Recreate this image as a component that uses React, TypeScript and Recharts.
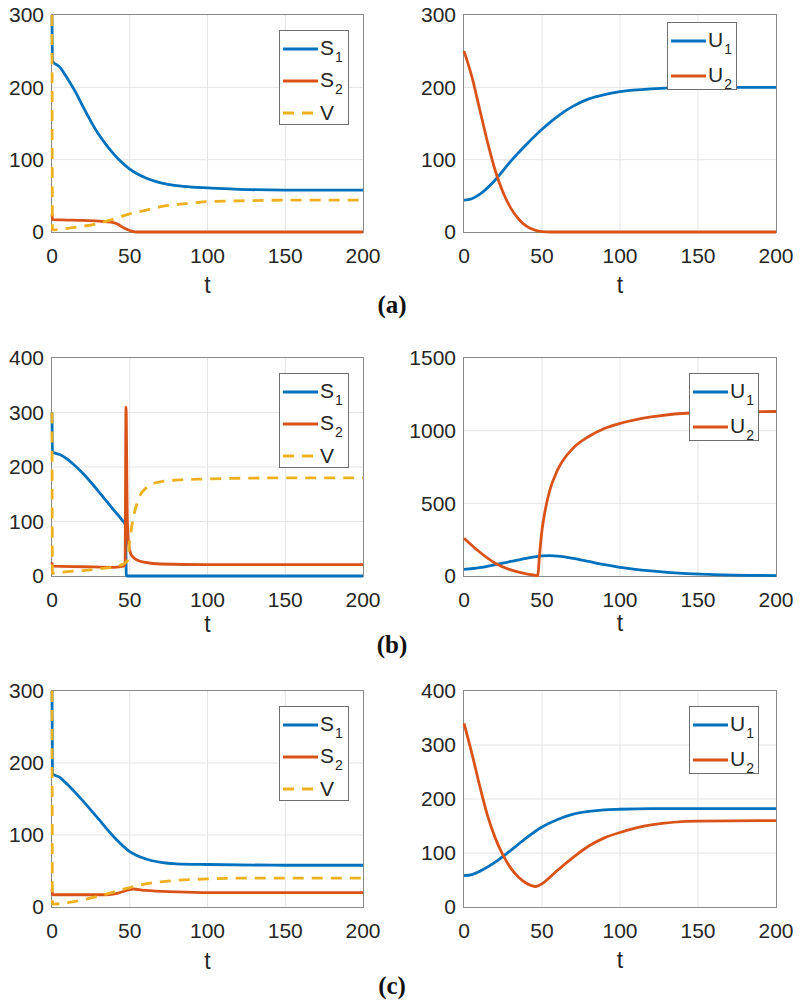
import React from "react";
import { CartesianGrid, Legend, Line, LineChart, XAxis, YAxis } from "recharts";

const BLUE = "#0072BD";
const ORANGE = "#D95319";
const YELLOW = "#EDB120";
const INK = "#262626";
const FONT = '"Liberation Sans", Arial, Helvetica, sans-serif';

const xTicks = [0, 50, 100, 150, 200];

// (a) left
const aS1T = [0, 0.3, 5, 10, 15, 20, 25, 30, 35, 40, 45, 50, 60, 70, 80, 90, 100, 120, 150, 200];
const aS1 = [300, 236, 228, 212, 194, 173, 153, 135, 120, 107, 96, 87, 75, 68, 64, 62, 61, 59, 58, 58];
const aS2T = [0, 0.3, 10, 20, 30, 38, 42, 46, 50, 54, 60, 200];
const aS2 = [25, 17, 16.5, 16, 15, 13.5, 11, 6, 2, 0, 0, 0];
const aVT = [0, 0.3, 10, 20, 30, 40, 50, 60, 70, 80, 90, 100, 120, 150, 200];
const aV = [300, 3, 5, 8, 12, 18, 25, 30, 35, 38, 40, 42, 43, 44, 44];

// (a) right
const aU1T = [0, 5, 10, 20, 30, 40, 50, 60, 70, 80, 90, 100, 120, 150, 200];
const aU1 = [44, 46, 52, 72, 98, 121, 142, 160, 174, 184, 190, 194, 198, 200, 200];
const aU2T = [0, 5, 10, 15, 20, 25, 30, 35, 40, 45, 50, 55, 60, 200];
const aU2 = [250, 215, 170, 125, 85, 55, 33, 18, 8, 3, 0.5, 0, 0, 0];

// (b) left
const bS1T = [0, 0.3, 5, 10, 15, 20, 30, 40, 45, 47.3, 47.8, 50, 200];
const bS1 = [300, 227, 223, 214, 202, 188, 155, 120, 103, 93, 0, 0, 0];
const bS2T = [0, 0.3, 20, 40, 46, 47, 47.6, 48.4, 49.2, 50.5, 52, 55, 60, 70, 100, 200];
const bS2 = [25, 18, 17, 16, 18, 25, 310, 110, 60, 42, 35, 29, 25, 22, 21, 21];
const bVT = [0, 0.3, 10, 20, 30, 40, 46, 48.5, 50, 52.5, 55, 57, 60, 63, 70, 80, 100, 150, 200];
const bV = [300, 5, 8, 10, 13, 17, 22, 28, 65, 110, 135, 150, 160, 167, 173, 176, 178, 180, 180];

// (b) right
const bU1T = [0, 10, 20, 30, 40, 50, 55, 60, 70, 80, 90, 100, 120, 140, 160, 200];
const bU1 = [45, 58, 78, 100, 122, 138, 140, 137, 122, 100, 78, 60, 35, 18, 10, 3];
const bU2T = [0, 10, 20, 30, 40, 45, 47.2, 48.5, 50, 52, 55, 60, 70, 80, 90, 100, 120, 150, 200];
const bU2 = [260, 165, 88, 42, 15, 6, 2, 155, 315, 450, 590, 730, 880, 960, 1015, 1050, 1095, 1125, 1132];

// (c) left
const cS1T = [0, 0.3, 5, 10, 20, 30, 40, 50, 60, 70, 80, 100, 150, 200];
const cS1 = [300, 185, 180, 170, 147, 122, 97, 77, 67, 62, 60, 59, 58, 58];
const cS2T = [0, 0.3, 20, 35, 42, 48, 52, 60, 80, 100, 200];
const cS2 = [25, 17, 17, 17, 19, 23, 25, 23, 21, 20, 20];
const cVT = [0, 0.3, 10, 20, 30, 40, 50, 60, 70, 80, 100, 120, 150, 200];
const cV = [300, 4, 6, 10, 15, 21, 27, 32, 35, 37, 39, 40, 40, 40];

// (c) right
const cU1T = [0, 5, 10, 20, 30, 40, 50, 60, 70, 80, 90, 100, 120, 150, 200];
const cU1 = [58, 60, 66, 83, 105, 128, 148, 162, 172, 177, 180, 181, 182, 182, 182];
const cU2T = [0, 5, 10, 15, 20, 25, 30, 35, 40, 46, 50, 55, 60, 70, 80, 90, 100, 120, 150, 200];
const cU2 = [340, 285, 225, 170, 128, 96, 72, 55, 44, 38, 43, 55, 68, 92, 113, 128, 138, 152, 159, 160];

type Series = { name: string; sub?: string; t: number[]; y: number[]; color: string; dashed?: boolean };

const zip = (t: number[], y: number[]) => t.map((tt, i) => ({ t: tt, v: y[i] }));

const sSeries = (s1t: number[], s1: number[], s2t: number[], s2: number[], vt: number[], v: number[]): Series[] => [
  { name: "S", sub: "1", t: s1t, y: s1, color: BLUE },
  { name: "S", sub: "2", t: s2t, y: s2, color: ORANGE },
  { name: "V", t: vt, y: v, color: YELLOW, dashed: true }
];

const uSeries = (u1t: number[], u1: number[], u2t: number[], u2: number[]): Series[] => [
  { name: "U", sub: "1", t: u1t, y: u1, color: BLUE },
  { name: "U", sub: "2", t: u2t, y: u2, color: ORANGE }
];

function LegendBox({ series }: { series: Series[] }) {
  const three = series.length === 3;
  const first = 18;
  const gap = three ? 32 : 35;
  return (
    <div
      style={{
        position: "relative",
        width: 70,
        height: three ? 95 : 68,
        border: "1.5px solid #6e6e6e",
        background: "#fff",
        boxSizing: "border-box",
        fontFamily: FONT
      }}
    >
      {series.map((s, i) => (
        <div
          key={i}
          style={{ position: "absolute", left: 3, top: first + i * gap - 12, height: 24, display: "flex", alignItems: "center" }}
        >
          <svg width={35} height={6}>
            <line x1={0} y1={3} x2={35} y2={3} stroke={s.color} strokeWidth={3} strokeDasharray={s.dashed ? "11 8" : undefined} />
          </svg>
          <span style={{ fontSize: 21, marginLeft: 2, color: INK, lineHeight: "24px", whiteSpace: "nowrap" }}>
            {s.name}
            {s.sub && <span style={{ fontSize: 14, position: "relative", top: 7, marginLeft: 1 }}>{s.sub}</span>}
          </span>
        </div>
      ))}
    </div>
  );
}

function Panel({
  x, y, w, h, yMax, yTicks, series, lx, ly, tGap
}: {
  x: number; y: number; w: number; h: number; yMax: number; yTicks: number[];
  series: Series[]; lx: number; ly: number; tGap: number;
}) {
  const YW = 60;
  const MT = 20;
  const MR = 30;
  const XH = tGap + 8;
  const left = x - YW;
  const top = y - MT;
  return (
    <div style={{ position: "absolute", left, top }}>
      {/* axes box sits under the svg so curves drawn at t=0 stay on top */}
      <div
        style={{
          position: "absolute",
          left: YW - 0.75,
          top: MT - 0.75,
          width: w + 1.5,
          height: h + 1.5,
          border: "1.5px solid #8a8a8a",
          boxSizing: "border-box"
        }}
      />
      <LineChart width={YW + w + MR} height={MT + h + XH} margin={{ top: MT, right: MR, left: 0, bottom: 0 }}>
        <CartesianGrid
          stroke="#e4e4e4"
          strokeWidth={1}
          verticalValues={xTicks.slice(1, -1)}
          horizontalValues={yTicks.slice(1, -1)}
        />
        <XAxis
          dataKey="t"
          type="number"
          domain={[0, 200]}
          ticks={xTicks}
          axisLine={false}
          tickLine={false}
          tickSize={0}
          tickMargin={16}
          height={XH}
          tick={{ fill: INK, fontSize: 21, fontFamily: FONT }}
          label={{ value: "t", position: "insideBottom", offset: 8, fill: INK, fontSize: 23, fontFamily: FONT }}
        />
        <YAxis
          type="number"
          domain={[0, yMax]}
          ticks={yTicks}
          width={YW}
          axisLine={false}
          tickLine={false}
          tickSize={0}
          tickMargin={8}
          tick={{ fill: INK, fontSize: 21, fontFamily: FONT }}
        />
        {series.map((s, i) => (
          <Line
            key={i}
            data={zip(s.t, s.y)}
            dataKey="v"
            type="monotone"
            stroke={s.color}
            strokeWidth={2.8}
            strokeDasharray={s.dashed ? "11 8" : undefined}
            dot={false}
            activeDot={false}
            isAnimationActive={false}
          />
        ))}
        <Legend
          layout="vertical"
          align="center"
          verticalAlign="middle"
          wrapperStyle={{ left: lx - left, top: ly - top, width: "auto" }}
          content={() => <LegendBox series={series} />}
        />
      </LineChart>
    </div>
  );
}

const labelStyle: React.CSSProperties = {
  position: "absolute",
  left: 392,
  transform: "translate(-50%, -50%)",
  fontFamily: '"Liberation Serif", "Times New Roman", serif',
  fontWeight: "bold",
  fontSize: 25,
  color: "#111"
};

export default function App() {
  return (
    <div style={{ position: "absolute", left: 0, top: 0, width: 800, height: 1001, background: "#fff" }}>
      <Panel x={52} y={15} w={311} h={217} yMax={300} yTicks={[0, 100, 200, 300]}
        series={sSeries(aS1T, aS1, aS2T, aS2, aVT, aV)} lx={279} ly={30} tGap={61} />
      <Panel x={464} y={15} w={312} h={217} yMax={300} yTicks={[0, 100, 200, 300]}
        series={uSeries(aU1T, aU1, aU2T, aU2)} lx={667} ly={22} tGap={61} />
      <div style={{ ...labelStyle, top: 305 }}>(a)</div>

      <Panel x={52} y={358} w={311} h={218} yMax={400} yTicks={[0, 100, 200, 300, 400]}
        series={sSeries(bS1T, bS1, bS2T, bS2, bVT, bV)} lx={279} ly={373} tGap={56} />
      <Panel x={464} y={358} w={312} h={218} yMax={1500} yTicks={[0, 500, 1000, 1500]}
        series={uSeries(bU1T, bU1, bU2T, bU2)} lx={689} ly={373} tGap={55} />
      <div style={{ ...labelStyle, top: 645 }}>(b)</div>

      <Panel x={52} y={691} w={311} h={216} yMax={300} yTicks={[0, 100, 200, 300]}
        series={sSeries(cS1T, cS1, cS2T, cS2, cVT, cV)} lx={279} ly={706} tGap={62} />
      <Panel x={464} y={691} w={312} h={216} yMax={400} yTicks={[0, 100, 200, 300, 400]}
        series={uSeries(cU1T, cU1, cU2T, cU2)} lx={689} ly={706} tGap={61} />
      <div style={{ ...labelStyle, top: 986 }}>(c)</div>
    </div>
  );
}
